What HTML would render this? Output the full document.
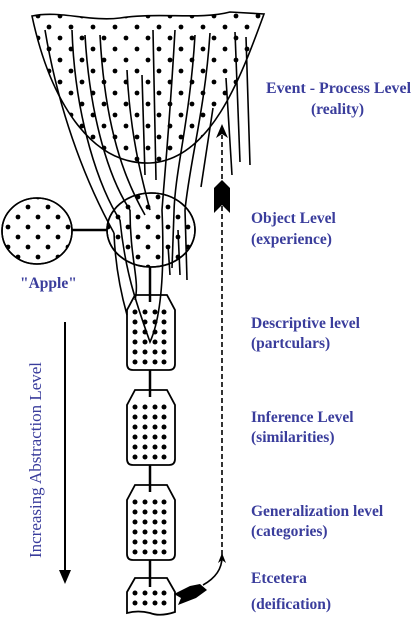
<!DOCTYPE html>
<html><head><meta charset="utf-8"><style>
html,body{margin:0;padding:0;background:#fff;}
svg{display:block;}
.l{font-family:"Liberation Serif",serif;font-weight:bold;font-size:15.5px;fill:#3a3d9c;}
</style></head><body>
<svg width="416" height="635" viewBox="0 0 416 635" xmlns="http://www.w3.org/2000/svg">
<defs>
<pattern id="dp" x="0" y="0" width="22" height="22" patternUnits="userSpaceOnUse">
<circle cx="5" cy="5" r="2.4" fill="#000"/><circle cx="16" cy="16" r="2.4" fill="#000"/>
</pattern>
<pattern id="dp2" x="3" y="2" width="20" height="20" patternUnits="userSpaceOnUse">
<circle cx="5" cy="5" r="2.4" fill="#000"/><circle cx="15" cy="15" r="2.4" fill="#000"/>
</pattern>
<clipPath id="bowl"><path d="M32,16 C60,10 90,22 120,18 C160,12 200,20 230,12 L264,14 C240,80 210,160 150,163 C90,165 50,100 32,16 Z"/></clipPath>
</defs>
<g fill="none" stroke="#000" stroke-width="1.6">
<rect x="30" y="10" width="240" height="160" fill="url(#dp)" stroke="none" clip-path="url(#bowl)"/>
<path d="M32,16 C60,10 90,22 120,18 C160,12 200,20 230,12 L264,14 C240,80 210,160 150,163 C90,165 50,100 32,16 Z"/>
<ellipse cx="151" cy="230" rx="44" ry="37" fill="url(#dp2)"/>
<ellipse cx="151" cy="230" rx="44" ry="37"/>
<ellipse cx="37" cy="231" rx="35" ry="33" fill="url(#dp2)"/>
<ellipse cx="37" cy="231" rx="35" ry="33"/>
<line x1="72" y1="230" x2="107" y2="230" stroke-width="2.5"/>
<path d="M45,30 C60,120 90,190 114,233"/>
<path d="M72,30 C75,120 100,190 120,220"/>
<path d="M85,35 C90,120 110,180 130,210"/>
<path d="M100,35 C105,130 125,180 145,215"/>
<path d="M127,70 C130,140 145,190 150,210"/>
<path d="M153,30 L156,180"/>
<path d="M142,75 L145,175"/>
<path d="M175,30 C170,120 165,170 162,210"/>
<path d="M195,35 C190,120 175,170 174,212"/>
<path d="M210,33 C205,110 190,160 185,210"/>
<path d="M213,108 L201,187"/>
<path d="M235,32 L240,162"/>
<path d="M246,37 L250,165"/>
<path d="M226,78 L232,175"/>
<path d="M114,233 C115,260 120,290 127,315"/>
<path d="M120,220 C125,270 135,300 150,342 C160,320 165,280 162,210"/>
<path d="M130,210 C130,260 140,280 135,300"/>
<path d="M174,212 L172,268"/>
<path d="M185,210 L187,280"/>
<path d="M168,245 L170,275"/>
<path d="M178,230 L180,275"/>
<line x1="150" y1="267" x2="150" y2="302" stroke-width="2.5"/>
<line x1="150" y1="370" x2="150" y2="397" stroke-width="2.5"/>
<line x1="150" y1="465" x2="150" y2="492" stroke-width="2.5"/>
<line x1="150" y1="560" x2="150" y2="587" stroke-width="2.5"/>
<path d="M135,295 H167 L175,310 V364 Q175,370 169,370 H133 Q127,370 127,364 V310 Z" stroke-width="1.8"/>
<path d="M135,390 H167 L175,405 V459 Q175,465 169,465 H133 Q127,465 127,459 V405 Z" stroke-width="1.8"/>
<path d="M135,485 H167 L175,500 V554 Q175,560 169,560 H133 Q127,560 127,554 V500 Z" stroke-width="1.8"/>
<path d="M135,578 H167 L175,592 V612 Q160,617 150,613 Q138,610 127,613 V592 Z" stroke-width="1.8"/>
<path d="M222,555 V135" stroke-dasharray="5,3"/>
<path d="M203,585 C212,580 222,572 222,557"/>
<line x1="65" y1="322" x2="65" y2="572" stroke-width="2"/>
</g>
<g fill="#000">
<path d="M222,124 L216,138 L222,134 L228,138 Z"/>
<path d="M222,553 L218,563 L222,560 L226,563 Z"/>
<path d="M214,188 L222,180 L230,188 V213 L222,205 L214,213 Z"/>
<path d="M174,594 L190,586 L200,584 L207,590 L196,598 L178,605 L181,598 Z"/>
<path d="M59,570 L65,584 L71,570 Z"/>
<g id="d1">
<circle cx="135" cy="312" r="2.5"/><circle cx="145" cy="312" r="2.5"/><circle cx="155" cy="312" r="2.5"/><circle cx="164" cy="312" r="2.5"/>
<circle cx="135" cy="322" r="2.5"/><circle cx="145" cy="322" r="2.5"/><circle cx="155" cy="322" r="2.5"/><circle cx="164" cy="322" r="2.5"/>
<circle cx="135" cy="332" r="2.5"/><circle cx="145" cy="332" r="2.5"/><circle cx="155" cy="332" r="2.5"/><circle cx="164" cy="332" r="2.5"/>
<circle cx="135" cy="342" r="2.5"/><circle cx="145" cy="342" r="2.5"/><circle cx="155" cy="342" r="2.5"/><circle cx="164" cy="342" r="2.5"/>
<circle cx="135" cy="352" r="2.5"/><circle cx="145" cy="352" r="2.5"/><circle cx="155" cy="352" r="2.5"/><circle cx="164" cy="352" r="2.5"/>
<circle cx="135" cy="362" r="2.5"/><circle cx="145" cy="362" r="2.5"/><circle cx="155" cy="362" r="2.5"/><circle cx="164" cy="362" r="2.5"/>
</g>
<use href="#d1" y="95"/>
<use href="#d1" y="190"/>
<circle cx="135" cy="593" r="2.5"/><circle cx="145" cy="593" r="2.5"/><circle cx="155" cy="593" r="2.5"/><circle cx="164" cy="593" r="2.5"/>
<circle cx="135" cy="603" r="2.5"/><circle cx="145" cy="603" r="2.5"/><circle cx="155" cy="603" r="2.5"/><circle cx="164" cy="603" r="2.5"/>
</g>
<text class="l" x="266" y="93" textLength="145" lengthAdjust="spacingAndGlyphs">Event - Process Level</text>
<text class="l" x="311" y="114">(reality)</text>
<text class="l" x="251" y="223">Object Level</text>
<text class="l" x="251" y="244">(experience)</text>
<text class="l" x="20" y="288">"Apple"</text>
<text class="l" x="251" y="328">Descriptive level</text>
<text class="l" x="251" y="348">(partculars)</text>
<text class="l" x="251" y="422">Inference Level</text>
<text class="l" x="251" y="442">(similarities)</text>
<text class="l" x="251" y="516">Generalization level</text>
<text class="l" x="251" y="536">(categories)</text>
<text class="l" x="251" y="583">Etcetera</text>
<text class="l" x="251" y="609">(deification)</text>
<text x="41" y="460" transform="rotate(-90 41 460)" text-anchor="middle" font-family="Liberation Serif, serif" font-size="16.5" fill="#3a3d9c" textLength="196" lengthAdjust="spacingAndGlyphs">Increasing Abstraction Level</text>
</svg>
</body></html>
